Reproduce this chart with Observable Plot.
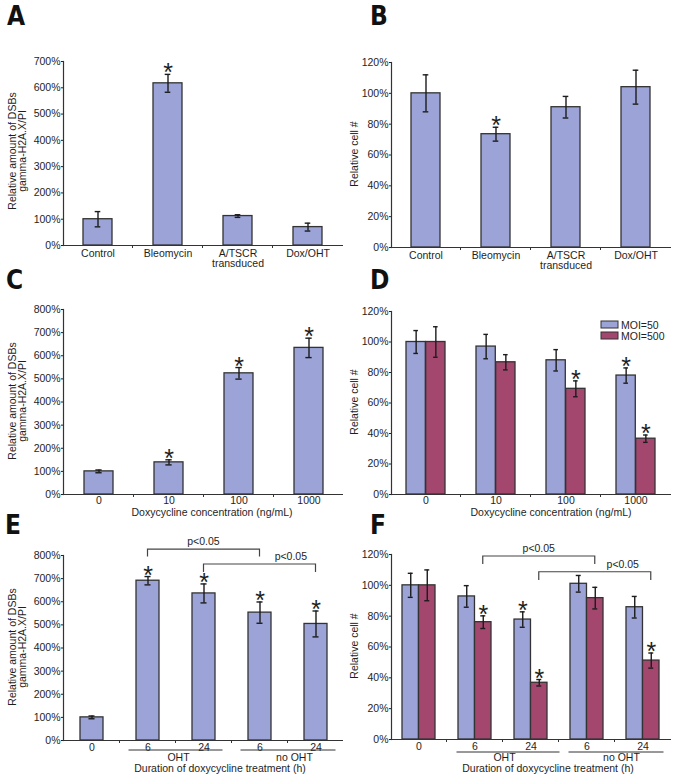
<!DOCTYPE html>
<html><head><meta charset="utf-8">
<script src="https://cdn.jsdelivr.net/npm/d3@7"></script>
<script src="https://cdn.jsdelivr.net/npm/@observablehq/plot@0.6"></script>
<style>
html,body{margin:0;padding:0;background:#fff;}
#fig{position:relative;width:678px;height:781px;overflow:hidden;background:#fff;}
#fig svg{position:absolute;overflow:visible;}
</style></head><body><div id="fig"></div>
<script>
// ---------- DATA ----------
const abCategories = ["Control", "Bleomycin", "A/TSCR\ntransduced", "Dox/OHT"];
const aValues = [100, 617, 112, 70];
const aErrors = [29, 34, 5, 15];
const aStars  = [false, true, false, false];

const bValues = [100, 73.5, 91, 104];
const bErrors = [12, 4.5, 7, 11];
const bStars  = [false, true, false, false];

const doseCategories = ["0", "10", "100", "1000"];
const cValues = [100, 139, 524, 634];
const cErrors = [6, 11, 25, 42];
const cStars  = [false, true, true, true];

const seriesNames = ["MOI=50", "MOI=500"];
const dMoi50      = [100, 97, 88, 78];
const dMoi50Err   = [7.5, 8, 7, 5];
const dMoi50Stars = [false, false, false, true];
const dMoi500      = [100, 86.7, 69.3, 36.6];
const dMoi500Err   = [10, 5, 5.2, 2.4];
const dMoi500Stars = [false, false, true, true];

const timeCategories = ["0", "6 OHT", "24 OHT", "6 no OHT", "24 no OHT"];
const timeTickLabels = ["0", "6", "24", "6", "24"];
const timeGroupLabels = ["OHT", "no OHT"];
const timeGroupMembers = [["6 OHT", "24 OHT"], ["6 no OHT", "24 no OHT"]];
const eValues = [100, 691, 636, 553, 504];
const eErrors = [6, 18, 41, 46, 56];
const eStars  = [false, true, true, true, true];

const fMoi50      = [100, 92.8, 77.8, 101, 85.8];
const fMoi50Err   = [7.8, 7, 5, 5.4, 7];
const fMoi50Stars = [false, false, true, false, false];
const fMoi500      = [100, 76.1, 36.8, 91.7, 51.2];
const fMoi500Err   = [10, 4.1, 2.1, 7, 4.9];
const fMoi500Stars = [false, true, true, false, true];

const comparisonPairs = [["6 OHT", "6 no OHT"], ["24 OHT", "24 no OHT"]];
const comparisonText = "p<0.05";

const dsbTicks  = [0, 100, 200, 300, 400, 500, 600, 700];
const dsbTicks8 = [0, 100, 200, 300, 400, 500, 600, 700, 800];
const cellTicks = [0, 20, 40, 60, 80, 100, 120];

const dsbLabel  = ["Relative amount of DSBs", "gamma-H2A.X/PI"];
const cellLabel = ["Relative cell #"];
const doseLabel = "Doxycycline concentration (ng/mL)";
const timeLabel = "Duration of doxycycline treatment (h)";

// ---------- STYLE ----------
const COLORS = {blue: "#9ba3d7", red: "#a4476f", edge: "#333", err: "#1c1c1c", text: "#1e1e1e"};
const FONT = "'Liberation Sans', Arial, Helvetica, sans-serif";
const LETTER_FONT = "'Liberation Sans Narrow', 'DejaVu Sans Condensed', 'Liberation Sans', sans-serif";
const FS = 10.5;

function rowsOf(cats, values, errors, stars) {
  return cats.map((c, i) => ({cat: c, v: values[i], lo: values[i] - errors[i], hi: values[i] + errors[i], star: stars[i]}));
}

function makePanel(cfg) {
  const n = cfg.cats.length;
  const step = (cfg.width - cfg.mL - cfg.mR) / n;
  const bw = step * (1 - cfg.padInner);
  const k = cfg.series.length;
  const sw = bw / k;
  const marks = [];
  cfg.series.forEach((s, j) => {
    const rows = rowsOf(cfg.cats, s.values, s.errors, s.stars);
    const dx = -bw / 2 + sw * (j + 0.5);
    marks.push(Plot.barY(rows, {x: "cat", y: "v", fill: s.fill, stroke: COLORS.edge, strokeWidth: 1.3,
      insetLeft: j * sw, insetRight: bw - (j + 1) * sw}));
    marks.push(Plot.ruleX(rows, {x: "cat", y1: "lo", y2: "hi", dx, stroke: COLORS.err, strokeWidth: 1.4}));
    const capInset = (bw - cfg.capW) / 2;
    for (const key of ["lo", "hi"]) {
      marks.push(Plot.tickY(rows, {x: "cat", y: key, dx, insetLeft: capInset, insetRight: capInset, stroke: COLORS.err, strokeWidth: 1.4}));
    }
    marks.push(Plot.text(rows.filter(d => d.star), {x: "cat", y: "hi", dx, dy: -1, text: () => "*", fontSize: 25, fill: COLORS.text}));
  });
  const labelMap = new Map(cfg.cats.map((c, i) => [c, cfg.tickLabels[i]]));
  const svg = Plot.plot({
    width: cfg.width, height: cfg.height,
    marginLeft: cfg.mL, marginRight: cfg.mR, marginTop: cfg.mT, marginBottom: cfg.mB,
    style: {fontFamily: FONT, fontSize: FS + "px", color: COLORS.text, background: "transparent", overflow: "visible"},
    x: {domain: cfg.cats, paddingInner: cfg.padInner, paddingOuter: cfg.padInner / 2},
    y: {domain: cfg.yDomain},
    marks: [
      ...marks,
      Plot.axisY({ticks: cfg.yTicks, tickFormat: d => d + "%", tickSize: 2, tickPadding: 1, label: null, fontSize: FS}),
      Plot.axisX({tickSize: 0, tickPadding: cfg.tickPad, tickFormat: d => labelMap.get(d), label: null, fontSize: FS, lineHeight: 1.0}),
      Plot.ruleY([0], {stroke: COLORS.edge, strokeWidth: 1.2}),
      Plot.frame({anchor: "left", stroke: COLORS.edge, strokeWidth: 1.2})
    ]
  });
  svg.style.position = "absolute";
  svg.style.left = cfg.left + "px";
  svg.style.top = cfg.top + "px";
  const xs = svg.scale("x"), ys = svg.scale("y");
  const cx = c => xs.apply(c) + xs.bandwidth / 2;
  const g = d3.select(svg).append("g").attr("font-family", FONT).attr("font-size", FS).attr("fill", COLORS.text);
  const y0 = ys.apply(0);
  const gap = xs.step - xs.bandwidth;
  cfg.cats.slice(1).forEach(c => {
    const x = xs.apply(c) - gap / 2;
    g.append("line").attr("x1", x).attr("x2", x).attr("y1", y0).attr("y2", y0 + 3).attr("stroke", COLORS.edge).attr("stroke-width", 1);
  });
  // panel letter
  g.append("text").text(cfg.letter).attr("x", cfg.letterX).attr("y", cfg.letterY).attr("text-anchor", "start")
    .attr("font-family", LETTER_FONT).attr("font-weight", "bold").attr("font-size", 26).attr("fill", "#111");
  // y label
  cfg.yLabel.forEach((line, i) => {
    g.append("text").text(line).attr("text-anchor", "middle").attr("dy", "0.35em")
      .attr("transform", `translate(${cfg.yLabelX[i]},${cfg.yLabelY}) rotate(-90)`);
  });
  // x label
  if (cfg.xLabel) {
    g.append("text").text(cfg.xLabel).attr("text-anchor", "middle").attr("x", cfg.xLabelX).attr("y", cfg.xLabelY);
  }
  if (cfg.extras) cfg.extras(g, xs, ys, cx, bw);
  document.getElementById("fig").appendChild(svg);
  return svg;
}

function groupUnderlines(g, cx, lineY, textY, l0, r0, textOffsets) {
  timeGroupMembers.forEach((m, i) => {
    const x1 = cx(m[0]) + l0, x2 = cx(m[m.length - 1]) + r0[i];
    g.append("line").attr("x1", x1).attr("x2", x2).attr("y1", lineY).attr("y2", lineY).attr("stroke", COLORS.edge).attr("stroke-width", 1);
    g.append("text").text(timeGroupLabels[i]).attr("text-anchor", "middle")
      .attr("x", (cx(m[0]) + cx(m[m.length - 1])) / 2 + textOffsets[i]).attr("y", textY);
  });
}

function brackets(g, ys, cx, levels, dx, fracs) {
  comparisonPairs.forEach((p, i) => {
    const xa = cx(p[0]) + dx, xb = cx(p[1]) + dx;
    const yt = ys.apply(levels[i][0]), yd = ys.apply(levels[i][1]);
    g.append("path").attr("d", `M${xa},${yd}V${yt}H${xb}V${yd}`).attr("fill", "none").attr("stroke", "#444").attr("stroke-width", 1.2);
    g.append("text").text(comparisonText).attr("text-anchor", "middle").attr("x", xa + (xb - xa) * fracs[i]).attr("y", yt - 4);
  });
}

// Panel A
makePanel({left: 0, top: 0, width: 345, height: 275, mL: 63, mR: 2, mT: 61, mB: 30,
  cats: abCategories, tickLabels: abCategories, yDomain: [0, 700], yTicks: dsbTicks,
  series: [{values: aValues, errors: aErrors, stars: aStars, fill: COLORS.blue}],
  padInner: 0.58, capW: 6, tickPad: 4, letter: "A", letterX: 7, letterY: 25,
  yLabel: dsbLabel, yLabelX: [12, 22.5], yLabelY: 151});

// Panel B
makePanel({left: 339, top: 0, width: 339, height: 275, mL: 52, mR: 7, mT: 62, mB: 28,
  cats: abCategories, tickLabels: abCategories, yDomain: [0, 120], yTicks: cellTicks,
  series: [{values: bValues, errors: bErrors, stars: bStars, fill: COLORS.blue}],
  padInner: 0.58, capW: 6, tickPad: 4, letter: "B", letterX: 31, letterY: 25,
  yLabel: cellLabel, yLabelX: [15], yLabelY: 154});

// Panel C
makePanel({left: 0, top: 260, width: 345, height: 260, mL: 63, mR: 2, mT: 49, mB: 26,
  cats: doseCategories, tickLabels: doseCategories, yDomain: [0, 800], yTicks: dsbTicks8,
  series: [{values: cValues, errors: cErrors, stars: cStars, fill: COLORS.blue}],
  padInner: 0.59, capW: 6, tickPad: 2, letter: "C", letterX: 6, letterY: 29,
  yLabel: dsbLabel, yLabelX: [12, 22.5], yLabelY: 141,
  xLabel: doseLabel, xLabelX: 212, xLabelY: 256});

// Panel D
makePanel({left: 339, top: 260, width: 339, height: 260, mL: 52, mR: 7, mT: 51, mB: 26,
  cats: doseCategories, tickLabels: doseCategories, yDomain: [0, 120], yTicks: cellTicks,
  series: [
    {values: dMoi50, errors: dMoi50Err, stars: dMoi50Stars, fill: COLORS.blue},
    {values: dMoi500, errors: dMoi500Err, stars: dMoi500Stars, fill: COLORS.red}],
  padInner: 0.437, capW: 5, tickPad: 2, letter: "D", letterX: 31, letterY: 29,
  yLabel: cellLabel, yLabelX: [15], yLabelY: 142,
  xLabel: doseLabel, xLabelX: 212, xLabelY: 256,
  extras: (g) => {
    [COLORS.blue, COLORS.red].forEach((col, i) => {
      g.append("rect").attr("x", 262).attr("y", 61 + i * 11).attr("width", 17).attr("height", 7)
        .attr("fill", col).attr("stroke", COLORS.edge).attr("stroke-width", 1);
      g.append("text").text(seriesNames[i]).attr("text-anchor", "start").attr("x", 282).attr("y", 69 + i * 11);
    });
  }});

// Panel E
makePanel({left: 0, top: 520, width: 344, height: 261, mL: 63, mR: 1, mT: 35, mB: 41,
  cats: timeCategories, tickLabels: timeTickLabels, yDomain: [0, 800], yTicks: dsbTicks8,
  series: [{values: eValues, errors: eErrors, stars: eStars, fill: COLORS.blue}],
  padInner: 0.59, capW: 6, tickPad: 3, letter: "E", letterX: 5, letterY: 14,
  yLabel: dsbLabel, yLabelX: [12, 22.5], yLabelY: 127,
  xLabel: timeLabel, xLabelX: 220, xLabelY: 252,
  extras: (g, xs, ys, cx) => {
    groupUnderlines(g, cx, 230, 241, -19, [19, 20], [3, 7]);
    brackets(g, ys, cx, [[825, 793], [761, 727]], 0, [0.5, 0.78]);
  }});

// Panel F
makePanel({left: 339, top: 520, width: 339, height: 261, mL: 52, mR: 7, mT: 34, mB: 42,
  cats: timeCategories, tickLabels: timeTickLabels, yDomain: [0, 120], yTicks: cellTicks,
  series: [
    {values: fMoi50, errors: fMoi50Err, stars: fMoi50Stars, fill: COLORS.blue},
    {values: fMoi500, errors: fMoi500Err, stars: fMoi500Stars, fill: COLORS.red}],
  padInner: 0.41, capW: 5, tickPad: 3, letter: "F", letterX: 31, letterY: 14,
  yLabel: cellLabel, yLabelX: [15], yLabelY: 126,
  xLabel: timeLabel, xLabelX: 209, xLabelY: 252,
  extras: (g, xs, ys, cx, bw) => {
    groupUnderlines(g, cx, 232, 241, -18, [29, 21], [2, 7]);
    brackets(g, ys, cx, [[118.7, 113.5], [108.5, 103.1]], bw / 4, [0.5, 0.75]);
  }});
</script></body></html>
